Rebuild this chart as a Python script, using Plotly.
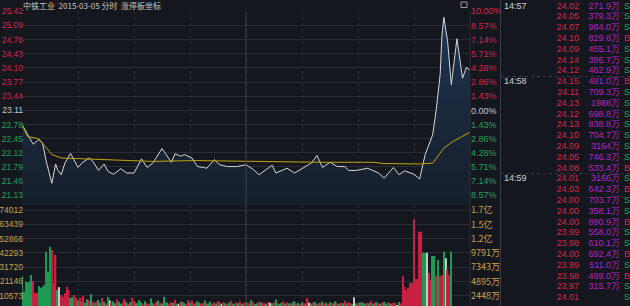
import plotly.graph_objects as go

# ---------------- data ----------------
prev_close = 23.11
title_text = "中铁工业  2015-03-05 分时  涨停板坐标"

price_ticks = [21.13, 21.46, 21.79, 22.12, 22.45, 22.78, 23.11, 23.44, 23.77, 24.10, 24.43, 24.76, 25.09, 25.42]
pct_ticks = ["8.57%", "7.14%", "5.71%", "4.28%", "2.86%", "1.43%", "0.00%", "1.43%", "2.86%", "4.28%", "5.71%", "7.14%", "8.57%", "10.00%"]

vol_ticks = [10573, 21146, 31720, 42293, 52866, 63439, 74012]
amt_ticks = ["2448万", "4895万", "7343万", "9791万", "1.2亿", "1.5亿", "1.7亿"]

# minute index (0 = 9:30, 120 = 11:30/13:00, 240 = 15:00)
price_min = [0, 3, 6, 9, 11, 13, 16, 18, 19, 21, 23, 26, 30, 32, 36, 38, 41, 44, 46, 49,
             53, 56, 60, 64, 67, 70, 75, 80, 82, 85, 87, 91, 94, 97, 99, 103, 106, 110, 115, 120,
             124, 127, 130, 134, 136, 142, 146, 151, 155, 158, 161, 165, 169, 173, 175, 179, 185, 188, 191, 194,
             199, 202, 205, 210, 213, 216, 220, 222, 224, 225, 226, 228, 230, 233, 236, 238, 240]
price_val = [22.78, 22.54, 22.32, 22.43, 22.35, 21.92, 21.41, 21.86, 21.73, 21.61, 21.88, 22.11, 21.78, 21.88, 22.00, 21.92, 21.71, 21.86, 21.69, 21.62,
             21.75, 21.65, 21.65, 21.98, 21.78, 21.88, 22.22, 21.90, 22.10, 22.04, 22.08, 22.00, 21.80, 21.78, 21.76, 21.96, 21.84, 21.80, 21.80, 21.84,
             21.73, 21.61, 21.70, 21.83, 21.65, 21.76, 21.65, 21.78, 21.88, 22.06, 21.78, 21.90, 21.80, 21.80, 21.71, 21.71, 21.76, 21.71, 21.65, 21.53,
             21.78, 21.61, 21.70, 21.62, 21.51, 22.08, 22.54, 23.16, 23.94, 24.87, 25.28, 24.72, 23.71, 24.78, 23.86, 24.11, 24.05]

avg_min = [0, 3, 9, 11, 16, 21, 35, 52, 70, 92, 124, 160, 188, 194, 213, 220, 226, 231, 240]
avg_val = [22.78, 22.50, 22.45, 22.35, 22.08, 22.00, 21.98, 21.94, 21.92, 21.94, 21.92, 21.90, 21.90, 21.87, 21.86, 21.88, 22.23, 22.39, 22.60]

volume = [
    25200, 13560, 21000, 20200, 21000, 25900, 21500, 12600, 12600, 17800,
    16300, 17000, 18500, 43200, 28400, 46900, 44500, 20000, 40800, 14800,
    17000, 11100, 9900, 12600, 17300, 14800, 8900, 9600, 11100, 8900,
    7000, 9000, 6500, 10500, 5500, 8000, 7200, 11800, 6000, 5000,
    6200, 7400, 5200, 8800, 6100, 4800, 9600, 7000, 5600, 6400,
    5000, 7800, 6200, 4600, 5400, 8200, 6000, 4400, 5800, 9000,
    6600, 5200, 4800, 7200, 5600, 4200, 6400, 5000, 4600, 8600,
    5400, 4400, 6000, 7000, 5200, 4800, 9800, 6200, 5400, 4600,
    6000, 5200, 7600, 4800, 4400, 5800, 6200, 5000, 4600, 7400,
    5400, 6800, 4200, 5000, 6400, 5600, 4800, 5200, 7000, 4600,
    5000, 6200, 4400, 5600, 4800, 6600, 5200, 4400, 5800, 5000,
    4600, 5400, 6800, 4800, 4200, 5600, 5000, 6400, 4600, 5200,
    6000, 5400, 4800, 7200, 5600, 4400, 5000, 6200, 5800, 4800,
    5200, 4600, 6000, 5400, 4800, 5600, 7800, 5000, 4400, 5200,
    6400, 4800, 5600, 5000, 4600, 5400, 6600, 4800, 5200, 4400,
    5800, 5000, 4600, 8800, 5400, 4800, 5600, 6000, 4400, 5200,
    5000, 6200, 4800, 5400, 4600, 5800, 5200, 4800, 6400, 5000,
    4600, 5400, 5000, 6800, 4800, 5600, 5200, 4400, 9400, 5000,
    4800, 5600, 6000, 5200, 4600, 5400, 5000, 6600, 4800, 5200,
    5800, 5000, 4600, 5400, 6200, 4800, 5600, 5000, 4400, 5200,
    5400, 3700, 6000, 5000, 25200, 17300, 14800, 16500, 20000, 20000,
    67200, 23000, 23000, 58000, 58000, 42500, 42500, 42500, 27400, 22200,
    40000, 40000, 25200, 37000, 25200, 25900, 43200, 38300, 30000, 25900,
    43200
]
vol_dir = list(
    "GGGGGGRRRG" "GGGGGGRRRG" "WRRRRRGGRR" "GRGRGGRGRG" "RGGRGRGWRG"
    "GRGGRRGRGR" "RGRGGRGRRG" "GRRGRGGRGR" "RGRGWRGGRR" "GRGRGGRRGR"
    "GGRRGRGWRG" "RGRGGRGRGR" "GRRGRGGRGR" "RGRWGRGRGG" "RGRGRGGRGR"
    "GRGRWGRGRG" "RGRGRGRGGR" "GRGRGRRGWG" "RGRGGRGRGR" "GRGRGGRGGR"
    "RWGRRRRRRR" "RRRRRGGWRR" "GGRGRRGWRR" "G"
)

trade_time = ["14:57", "", "", "", "", "", "", "14:58", "", "", "", "", "", "", "", "", "14:59",
              "", "", "", "", "", "", "", "", "", "", ""]
trade_price = ["24.02", "24.05", "24.07", "24.10", "24.09", "24.14", "24.12", "24.15", "24.11", "24.13",
               "24.12", "24.13", "24.10", "24.09", "24.05", "24.08", "24.01", "24.03", "24.00", "24.00",
               "24.00", "23.99", "23.98", "24.00", "23.99", "23.98", "23.97", "24.01"]
trade_amt = ["271.9万", "379.3万", "984.0万", "829.8万", "455.1万", "395.7万", "462.9万", "491.0万", "709.3万", "1988万",
             "698.8万", "838.8万", "704.7万", "3164万", "746.3万", "533.4万", "3166万", "642.3万", "703.7万", "358.1万",
             "890.9万", "558.0万", "610.1万", "692.4万", "511.0万", "499.0万", "315.7万", ""]
trade_side = ["S", "S", "S", "B", "S", "S", "S", "B", "S", "S", "S", "S", "S", "S", "S", "B", "S", "B", "S", "S",
              "B", "S", "S", "B", "S", "B", "S", "S"]

# ---------------- styling ----------------
W, H = 630, 306
BG = "#15171e"
GRID = "#2a2d37"
RED = "#d8234a"
GREEN = "#1fa35a"
GRAY = "#c9c9c9"
GOLD = "#c9a24e"
PURPLE = "#b423c8"
FONT = "Liberation Sans, Arial, sans-serif"
CJK = "Noto Sans CJK SC, sans-serif"

def px_x(p):
    return p / W

def px_y(p):
    return 1 - p / H

plot_l, plot_r = 22, 470
price_top_px, price_bot_px = 11.3, 205
px_per_yuan = (195.3 - 11.3) / (25.42 - 21.13)
price_lo = 21.13 - (price_bot_px - 195.3) / px_per_yuan
vol_px = 14.27 / 10573
vol_hi = (310 - price_bot_px) / vol_px
vol_lo = (310 - H) / vol_px

row_y0, row_step = 6.3, 10.8   # pixel centre of first trade row, row pitch


def colored(labels, ticks):
    out = []
    for lab, t in zip(labels, ticks):
        c = RED if t > prev_close + 1e-9 else (GREEN if t < prev_close - 1e-9 else GRAY)
        out.append(f'<span style="color:{c}">{lab}</span>')
    return out

fig = go.Figure()

fig.add_trace(go.Scatter(
    x=price_min, y=price_val, mode="lines",
    line=dict(color="#d6d6d6", width=1),
    fill="tozeroy",
    fillgradient=dict(type="vertical", start=price_lo, stop=25.42,
                      colorscale=[[0, "#161f2c"], [0.5, "#1a293c"], [1, "#203858"]]),
    xaxis="x", yaxis="y", hoverinfo="skip", showlegend=False))
fig.add_trace(go.Scatter(
    x=avg_min, y=avg_val, mode="lines",
    line=dict(color="#c4a40c", width=1),
    xaxis="x", yaxis="y", hoverinfo="skip", showlegend=False))
fig.add_trace(go.Scatter(x=[0], y=[prev_close], mode="markers", marker=dict(opacity=0),
                         xaxis="x", yaxis="y3", hoverinfo="skip", showlegend=False))

cmap = {"R": "#c81f43", "G": "#1d9a52", "W": "#c8c8c8"}
fig.add_trace(go.Bar(
    x=list(range(len(volume))), y=volume,
    marker=dict(color=[cmap[d] for d in vol_dir], line=dict(width=0)),
    xaxis="x2", yaxis="y2", hoverinfo="skip", showlegend=False))
fig.add_trace(go.Scatter(x=[0], y=[10573], mode="markers", marker=dict(opacity=0),
                         xaxis="x2", yaxis="y4", hoverinfo="skip", showlegend=False))

rows = list(range(len(trade_price)))
tsize = 9
fig.add_trace(go.Scatter(x=[504] * len(rows), y=rows, mode="text", text=trade_time,
                         textposition="middle right", textfont=dict(family=FONT, size=tsize, color="#d2d2d2"),
                         xaxis="x3", yaxis="y5", hoverinfo="skip", showlegend=False))
fig.add_trace(go.Scatter(x=[579] * len(rows), y=rows, mode="text", text=trade_price,
                         textposition="middle left", textfont=dict(family=FONT, size=tsize, color=RED),
                         xaxis="x3", yaxis="y5", hoverinfo="skip", showlegend=False))
fig.add_trace(go.Scatter(x=[620] * len(rows), y=rows, mode="text", text=trade_amt,
                         textposition="middle left", textfont=dict(family=FONT, size=tsize, color=PURPLE),
                         xaxis="x3", yaxis="y5", hoverinfo="skip", showlegend=False))
fig.add_trace(go.Scatter(x=[624] * len(rows), y=rows, mode="text", text=trade_side,
                         textposition="middle right",
                         textfont=dict(family=FONT, size=tsize, color=[RED if s == "B" else GREEN for s in trade_side]),
                         xaxis="x3", yaxis="y5", hoverinfo="skip", showlegend=False))

xgrid = [30, 60, 90, 120, 150, 180, 210]
common_x = dict(range=[0, 240], showgrid=True, gridcolor=GRID, griddash="dot", gridwidth=1,
                tickvals=xgrid, showticklabels=False, zeroline=False, showline=False,
                fixedrange=True, automargin=False)

row_top = -row_y0 / row_step
row_bot = (H - row_y0) / row_step

fig.update_layout(
    width=W, height=H, margin=dict(l=0, r=0, t=0, b=0, autoexpand=False),
    paper_bgcolor=BG, plot_bgcolor=BG,
    bargap=0.25,
    xaxis=dict(domain=[px_x(plot_l), px_x(plot_r)], anchor="y", **common_x),
    xaxis2=dict(domain=[px_x(plot_l), px_x(plot_r)], anchor="y2", matches="x", **common_x),
    xaxis3=dict(domain=[px_x(500), 1], anchor="y5", range=[500, W], visible=False,
                fixedrange=True, automargin=False),
    yaxis=dict(domain=[px_y(price_bot_px), px_y(price_top_px)], range=[price_lo, 25.42],
               tickvals=price_ticks, ticktext=colored([f"{t:.2f}" for t in price_ticks], price_ticks),
               tickfont=dict(family=FONT, size=8.5), ticks="", ticklabelstandoff=-2,
               showgrid=True, gridcolor=GRID, zeroline=False, showline=False,
               fixedrange=True, automargin=False),
    yaxis3=dict(overlaying="y", side="right", anchor="x", range=[price_lo, 25.42],
                tickvals=price_ticks, ticktext=colored(pct_ticks, price_ticks),
                tickfont=dict(family=FONT, size=9), ticks="", ticklabelstandoff=0,
                showgrid=False, zeroline=False, showline=False, fixedrange=True, automargin=False),
    yaxis2=dict(domain=[0, px_y(price_bot_px)], range=[vol_lo, vol_hi],
                tickvals=vol_ticks, ticktext=[str(v) for v in vol_ticks],
                tickfont=dict(family=FONT, size=8.5, color=GOLD), ticks="", ticklabelstandoff=-2,
                showgrid=True, gridcolor=GRID, zeroline=False, showline=False,
                fixedrange=True, automargin=False),
    yaxis4=dict(overlaying="y2", side="right", anchor="x2", range=[vol_lo, vol_hi],
                tickvals=vol_ticks, ticktext=amt_ticks,
                tickfont=dict(family=CJK, size=9, color=GOLD), ticks="", ticklabelstandoff=0,
                showgrid=False, zeroline=False, showline=False, fixedrange=True, automargin=False),
    yaxis5=dict(domain=[0, 1], range=[row_bot, row_top], visible=False, fixedrange=True, automargin=False),
    shapes=[
        dict(type="line", xref="x", yref="paper", x0=120, x1=120, y0=0, y1=px_y(price_top_px),
             line=dict(color="#3a3e4a", width=1)),
        dict(type="line", xref="paper", yref="paper", x0=px_x(plot_r), x1=px_x(plot_r), y0=0, y1=px_y(price_top_px),
             line=dict(color="#2c2f39", width=1)),
        dict(type="line", xref="paper", yref="paper", x0=px_x(500.5), x1=px_x(500.5), y0=0, y1=1,
             line=dict(color="#3a3d47", width=1)),
        dict(type="line", xref="paper", yref="y5", x0=px_x(501), x1=1, y0=6.5, y1=6.5,
             line=dict(color="#3a3d47", width=1, dash="dot")),
        dict(type="line", xref="paper", yref="y5", x0=px_x(501), x1=1, y0=15.5, y1=15.5,
             line=dict(color="#3a3d47", width=1, dash="dot")),
        dict(type="rect", xref="paper", yref="paper", x0=px_x(461), x1=px_x(467), y0=px_y(7.5), y1=px_y(2),
             line=dict(color="#9a9a9a", width=1)),
    ],
    annotations=[
        dict(text=title_text, xref="paper", yref="paper", x=px_x(21), y=px_y(5.5),
             xanchor="left", yanchor="middle", showarrow=False,
             font=dict(family=CJK, size=8, color="#c8c8c8")),
    ],
)

fig.write_html("out.html")
